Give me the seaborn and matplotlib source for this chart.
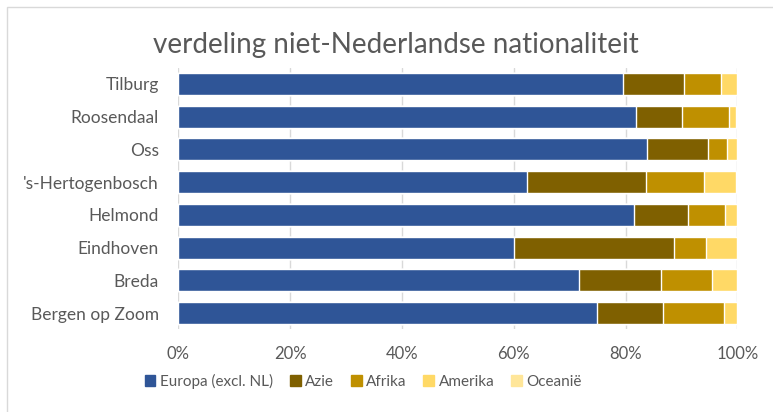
import matplotlib.pyplot as plt
import matplotlib.patches as mpatches
from matplotlib.ticker import PercentFormatter
import pandas as pd
import seaborn as sns

# data (shares in %)
steden = ['Tilburg', 'Roosendaal', 'Oss', "'s-Hertogenbosch", 'Helmond',
          'Eindhoven', 'Breda', 'Bergen op Zoom']
europa = [79.5, 81.9, 83.9, 62.3, 81.5, 60.1, 71.7, 74.8]
azie = [10.9, 8.1, 10.9, 21.3, 9.6, 28.6, 14.6, 11.8]
afrika = [6.7, 8.5, 3.4, 10.4, 6.6, 5.6, 9.1, 11.0]
amerika = [2.9, 1.3, 1.8, 5.7, 2.3, 5.6, 4.5, 2.3]
oceanie = [0.0, 0.2, 0.0, 0.3, 0.0, 0.1, 0.1, 0.1]

reeksen = ['Europa (excl. NL)', 'Azie', 'Afrika', 'Amerika', 'Oceanië']
kleuren = ['#2F5597', '#7F6000', '#BF9000', '#FFD966', '#FFE699']

df = pd.DataFrame({'stad': steden, 'Europa (excl. NL)': europa, 'Azie': azie,
                   'Afrika': afrika, 'Amerika': amerika, 'Oceanië': oceanie})
cum = df[reeksen].cumsum(axis=1)
cum['stad'] = df['stad']

sns.set_style('white')
plt.rcParams['font.family'] = ['Lato', 'DejaVu Sans']

fig = plt.figure(figsize=(7.73, 4.12), dpi=100)
ax = fig.add_axes([0.2309, 0.2005, 0.954 - 0.2309, 0.836 - 0.2005])

# stacked bars: draw cumulative totals from back to front
for naam, kleur in reversed(list(zip(reeksen, kleuren))):
    sns.barplot(data=cum, x=naam, y='stad', order=steden, color=kleur,
                width=0.67, saturation=1, ax=ax, zorder=3)

ax.set_xlim(0, 100)
ax.xaxis.set_major_formatter(PercentFormatter(decimals=0))
ax.set_xticks([0, 20, 40, 60, 80, 100])
ax.grid(axis='x', color='#D9D9D9', linewidth=1, zorder=0)
ax.set_axisbelow(True)
ax.set_xlabel('')
ax.set_ylabel('')
for s in ax.spines.values():
    s.set_visible(False)
ax.tick_params(axis='both', length=0, colors='#595959')
ax.tick_params(axis='y', pad=14, labelsize=12.5)
ax.tick_params(axis='x', pad=12, labelsize=12)

fig.text(0.512, 0.891, 'verdeling niet-Nederlandse nationaliteit', ha='center',
         va='center', fontsize=20, color='#595959')

handles = [mpatches.Patch(color=k, label=n) for n, k in zip(reeksen, kleuren)]
fig.legend(handles=handles, loc='center', bbox_to_anchor=(0.47, 0.075), ncol=5,
           frameon=False, fontsize=11, handlelength=0.7, handleheight=0.7,
           handletextpad=0.3, columnspacing=1.1, labelcolor='#595959')

# chart border
fig.patches.append(mpatches.Rectangle((7 / 773, -0.1), 1.2, 1.1 - 7 / 412,
                                      transform=fig.transFigure, fill=False,
                                      edgecolor='#D9D9D9', linewidth=1))

fig.savefig('out.png', dpi=100)
